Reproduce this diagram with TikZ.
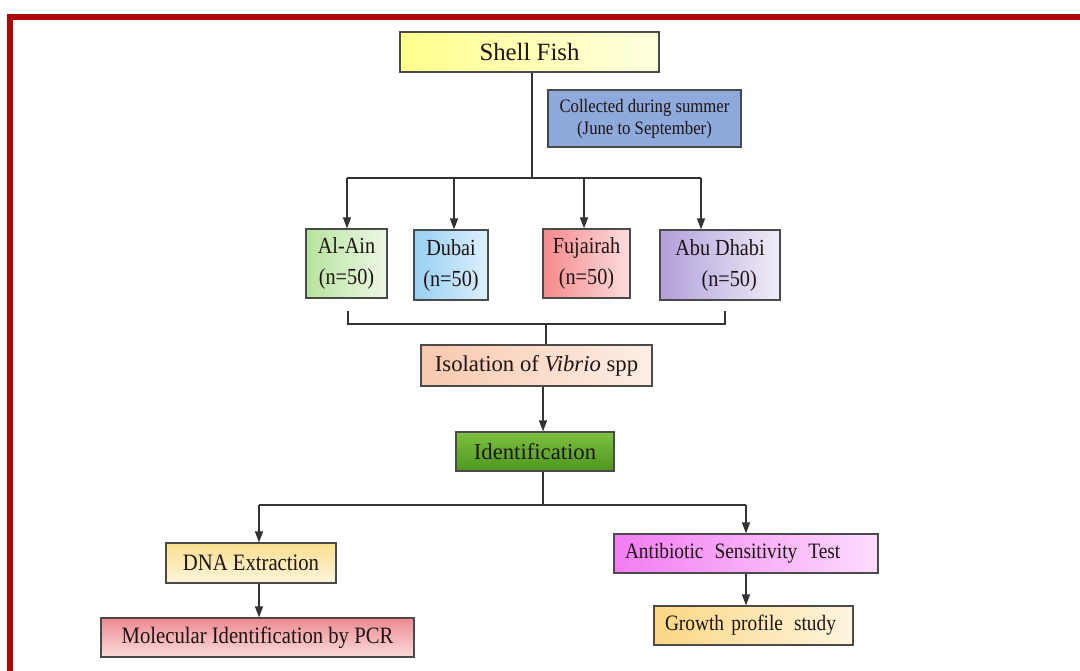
\documentclass[tikz,border=0pt]{standalone}
\usepackage{fontspec}
\setmainfont{Liberation Serif}
\newfontfamily\cfont{Liberation Serif}[FakeStretch=0.88]
\usetikzlibrary{arrows.meta}
\definecolor{frame}{HTML}{B00808}
\definecolor{boxline}{HTML}{4A4A4A}
\definecolor{linec}{HTML}{333333}
\definecolor{txt}{HTML}{1E1414}
\definecolor{shellA}{HTML}{FFFF8C}\definecolor{shellB}{HTML}{FFFFE0}
\definecolor{collC}{HTML}{8EA9DB}
\definecolor{alA}{HTML}{B6E39C}\definecolor{alB}{HTML}{EEF8E8}
\definecolor{duA}{HTML}{98CFF3}\definecolor{duB}{HTML}{DCF0FC}
\definecolor{fuA}{HTML}{F58A8C}\definecolor{fuB}{HTML}{FCDDDD}
\definecolor{abA}{HTML}{B19FDA}\definecolor{abB}{HTML}{F0ECF7}
\definecolor{isA}{HTML}{F8C9AE}\definecolor{isB}{HTML}{FDEEE5}
\definecolor{idA}{HTML}{7DC142}\definecolor{idB}{HTML}{4E961F}
\definecolor{dnA}{HTML}{FADF8E}\definecolor{dnB}{HTML}{FDF5DC}
\definecolor{moA}{HTML}{EC8A90}\definecolor{moB}{HTML}{FADCDD}
\definecolor{asA}{HTML}{F37CF3}\definecolor{asB}{HTML}{FDDCFD}
\definecolor{grA}{HTML}{FBD783}\definecolor{grB}{HTML}{FEF4DE}
\begin{document}
\begin{tikzpicture}[x=1pt,y=-1pt,
  box/.style={draw=boxline, line width=1.2pt, inner sep=0pt, align=center, text=txt},
  conn/.style={draw=linec, line width=1.3pt},
  arr/.style={conn, -{Triangle[length=11pt,width=8pt]}},
  fbig/.style={font=\fontsize{24.8}{28}\selectfont},
  fmid/.style={font=\fontsize{22.7}{26}\selectfont},
  fcond/.style={font=\cfont\fontsize{23.5}{27}\selectfont},
  freg/.style={font=\cfont\fontsize{23}{31}\selectfont},
  fsmall/.style={font=\cfont\fontsize{19}{22}\selectfont},
  fast/.style={font=\cfont\fontsize{22}{25}\selectfont}]
\useasboundingbox (0,0) rectangle (1080,671);
\fill[white] (0,0) rectangle (1080,671);
% frame
\draw[frame, line width=5.5pt] (1080,17) -- (10,17) -- (10,671);

% nodes
\node[box, fbig, minimum width=259pt, minimum height=40pt,
      left color=shellA, right color=shellB] (shell) at (529.5,52) {Shell Fish};
\node[box, fsmall, minimum width=193pt, minimum height=57pt, fill=collC] (coll) at (644.5,118.5)
  {Collected during summer\\(June to September)};

\node[box, freg, minimum width=81pt, minimum height=69pt,
      left color=alA, right color=alB] (alain) at (346.5,263.5) {Al-Ain\\(n=50)};
\node[box, freg, minimum width=74pt, minimum height=70pt,
      left color=duA, right color=duB] (dubai) at (451,265) {Dubai\\(n=50)};
\node[box, freg, minimum width=87pt, minimum height=69pt,
      left color=fuA, right color=fuB] (fuj) at (586.5,263.5) {Fujairah\\(n=50)};
\node[box, freg, minimum width=120pt, minimum height=70pt,
      left color=abA, right color=abB] (abu) at (720,265) {Abu Dhabi\\\hspace*{0.8em}(n=50)};

\node[box, fmid, minimum width=231pt, minimum height=41pt,
      left color=isA, right color=isB] (iso) at (536.5,365.5) {Isolation of \textit{Vibrio} spp};
\node[box, fmid, minimum width=158pt, minimum height=39pt,
      top color=idA, bottom color=idB] (ident) at (535,451.5) {Identification};

\node[box, fcond, minimum width=170pt, minimum height=40pt,
      top color=dnA, bottom color=dnB] (dna) at (251,563) {DNA Extraction};
\node[box, fcond, minimum width=313pt, minimum height=39pt,
      top color=moA, bottom color=moB] (mol) at (257.5,637.5) {Molecular Identification by PCR};

\node[box, fast, minimum width=264pt, minimum height=39pt, text width=242pt, align=left,
      left color=asA, right color=asB] (ast) at (746,553.5) {Antibiotic\ \,Sensitivity\ \,Test};
\node[box, fast, minimum width=199pt, minimum height=39pt, text width=177pt, align=left,
      left color=grA, right color=grB] (grow) at (753.5,625.5) {Growth profile\ \,study};

% connectors: shell fish to regions
\coordinate (s0) at (532,178);
\coordinate (hA) at (347,178);
\coordinate (hB) at (454,178);
\coordinate (hC) at (584,178);
\coordinate (hD) at (701,178);
\draw[conn] (shell.south -| s0) -- (s0);
\draw[conn] (hA) -- (hD);
\draw[arr] (hA) -- (hA |- alain.north);
\draw[arr] (hB) -- (hB |- dubai.north);
\draw[arr] (hC) -- (hC |- fuj.north);
\draw[arr] (hD) -- (hD |- abu.north);

% bracket
\coordinate (b1) at (348,311);
\coordinate (b2) at (725,311);
\coordinate (bm) at (546,324);
\draw[conn] (b1) -- (b1 |- bm) -- (b2 |- bm) -- (b2);
\draw[conn] (bm) -- (bm |- iso.north);

% isolation -> identification
\coordinate (i0) at (543,0);
\draw[arr] (i0 |- iso.south) -- (i0 |- ident.north);

% identification split
\coordinate (t0) at (543,505);
\coordinate (tL) at (259,505);
\coordinate (tR) at (746,505);
\draw[conn] (t0 |- ident.south) -- (t0);
\draw[conn] (tL) -- (tR);
\draw[arr] (tL) -- (tL |- dna.north);
\draw[arr] (tR) -- (tR |- ast.north);
\draw[arr] (tL |- dna.south) -- (tL |- mol.north);
\draw[arr] (tR |- ast.south) -- (tR |- grow.north);
\end{tikzpicture}
\end{document}
